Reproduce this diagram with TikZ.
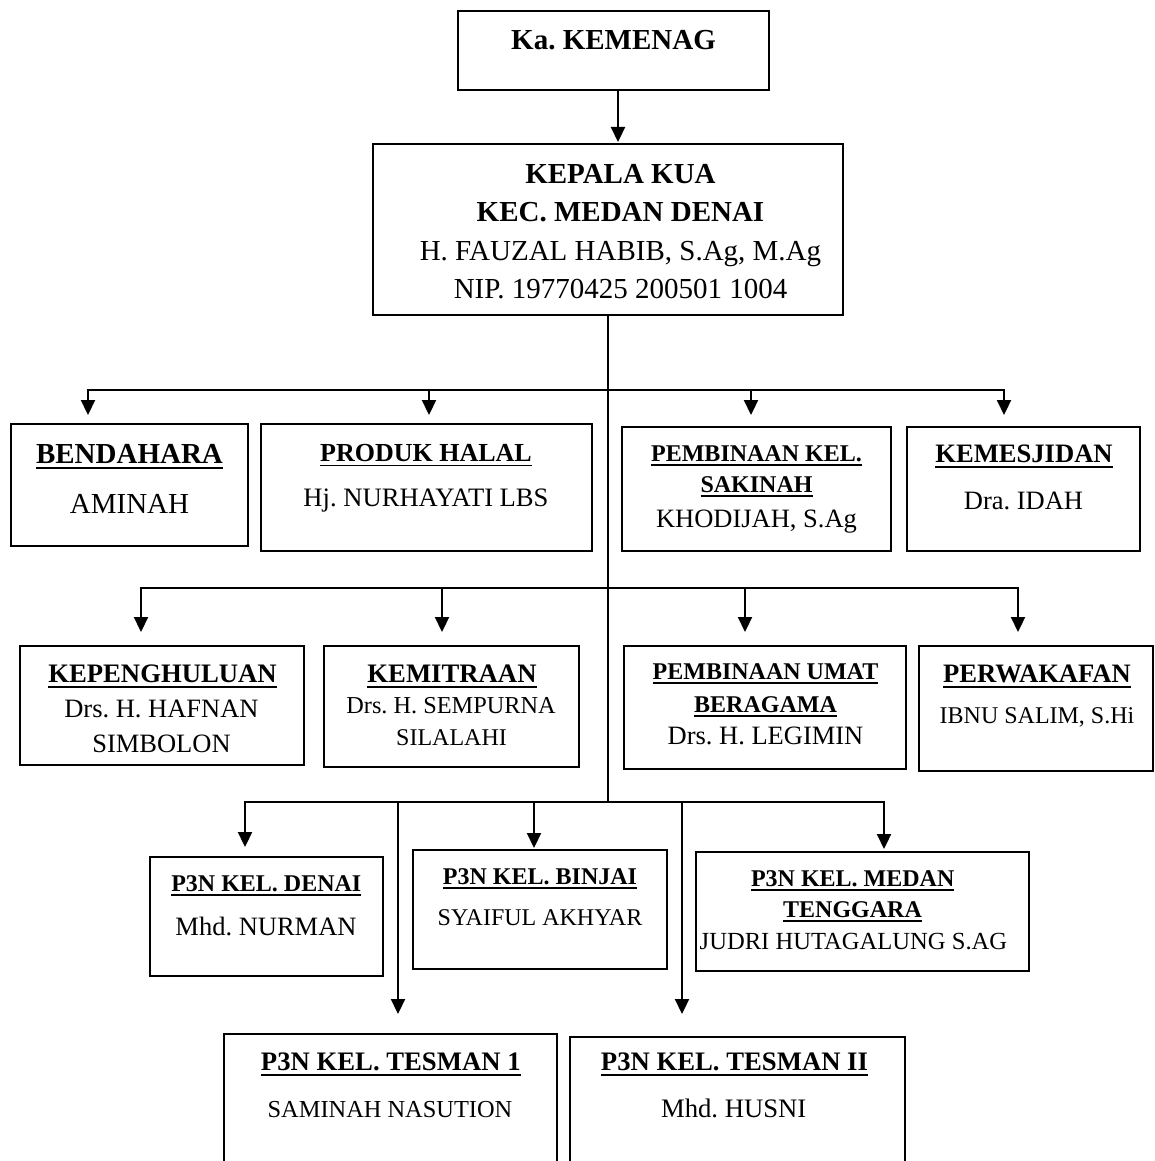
\documentclass[tikz,border=0pt]{standalone}
\usepackage{fontspec}
\setmainfont{Liberation Serif}
\usetikzlibrary{arrows.meta}
\newcommand{\orgul}[1]{\setbox0=\hbox{#1}\rlap{\rule[-0.21em]{\wd0}{0.07em}}\box0}
\newcommand{\orghd}[1]{{\bfseries\orgul{#1}}}
\newcommand{\mkbox}[5]{\node[orgbox, minimum width={#4-#2}, minimum height={#5-#3}] (#1) at ({(#2+#4)/2},{(#3+#5)/2}) {};}
\newcommand{\orgtxt}[5]{\node[txt] (#1) at (#2,#3) {\frenchspacing\fontsize{#4}{#4}\selectfont #5};}
\begin{document}
\begin{tikzpicture}[x=1pt, y=-1pt,
  orgbox/.style={draw, line width=2pt, inner sep=0pt, outer sep=0pt},
  txt/.style={anchor=base, inner sep=0pt, outer sep=0pt},
  ln/.style={line width=2.2pt},
  >={Triangle[length=15pt,width=14pt]}]
\useasboundingbox (0,0) rectangle (1154,1161);
\clip (0,0) rectangle (1154,1161);
\fill[white] (0,0) rectangle (1154,1161);
% boxes
\mkbox{ka}{458}{11}{769}{90}
\mkbox{kua}{373}{144}{843}{315}
\mkbox{bend}{11}{424}{248}{546}
\mkbox{prod}{261}{424}{592}{551}
\mkbox{pkel}{622}{427}{891}{551}
\mkbox{kemes}{907}{427}{1140}{551}
\mkbox{kepeng}{20}{646}{304}{765}
\mkbox{kemit}{324}{646}{579}{767}
\mkbox{pumat}{624}{646}{906}{769}
\mkbox{perwak}{919}{646}{1152.5}{771}
\mkbox{denai}{150}{857}{383}{976}
\mkbox{binjai}{413}{850}{667}{969}
\mkbox{medan}{696}{852}{1029}{971}
\mkbox{tesa}{224}{1034}{557}{1190}
\mkbox{tesb}{570}{1037}{905}{1190}
% connectors
\coordinate (kx) at (618,90);
\draw[ln,->,shorten >=2pt] (ka.south -| kx) -- (kua.north -| kx);
\coordinate (j3) at (608,802);
\draw[ln] (kua.south) -- (j3);
\coordinate (d11) at (88,390);
\coordinate (d12) at (429,390);
\coordinate (d13) at (751,390);
\coordinate (d14) at (1004,390);
\draw[ln,<->,shorten <=9pt,shorten >=12pt] (bend.north -| d11) -- (d11) -- (d14) -- (kemes.north -| d14);
\draw[ln,->,shorten >=9pt] (d12) -- (prod.north -| d12);
\draw[ln,->,shorten >=12pt] (d13) -- (pkel.north -| d13);
\coordinate (d21) at (141,588);
\coordinate (d22) at (442,588);
\coordinate (d23) at (745,588);
\coordinate (d24) at (1018,588);
\draw[ln,<->,shorten <=14pt,shorten >=14pt] (kepeng.north -| d21) -- (d21) -- (d24) -- (perwak.north -| d24);
\draw[ln,->,shorten >=14pt] (d22) -- (kemit.north -| d22);
\draw[ln,->,shorten >=14pt] (d23) -- (pumat.north -| d23);
\coordinate (d31) at (245,802);
\coordinate (d32) at (398,802);
\coordinate (d33) at (534,802);
\coordinate (d34) at (682,802);
\coordinate (d35) at (884,802);
\draw[ln,<->,shorten <=10pt,shorten >=3pt] (denai.north -| d31) -- (d31) -- (d35) -- (medan.north -| d35);
\draw[ln,->,shorten >=20pt] (d32) -- (tesa.north -| d32);
\draw[ln,->,shorten >=2pt] (d33) -- (binjai.north -| d33);
\draw[ln,->,shorten >=23pt] (d34) -- (tesb.north -| d34);
% texts
\orgtxt{t0}{613.5}{50}{29}{\bfseries Ka. KEMENAG}
\orgtxt{t1a}{620.5}{183}{29}{\bfseries KEPALA KUA}
\orgtxt{t1b}{620.5}{222}{29}{\bfseries KEC. MEDAN DENAI}
\orgtxt{t1c}{620.5}{260}{29}{H. FAUZAL HABIB, S.Ag, M.Ag}
\orgtxt{t1d}{620.5}{298}{29}{NIP. 19770425 200501 1004}
\orgtxt{t2a}{129.5}{463}{29}{\orghd{BENDAHARA}}
\orgtxt{t2b}{129.5}{513}{29}{AMINAH}
\orgtxt{t3a}{426}{461}{26}{\orghd{PRODUK HALAL}}
\orgtxt{t3b}{426}{506}{26.6}{Hj. NURHAYATI LBS}
\orgtxt{t4a}{756.5}{461}{24}{\orghd{PEMBINAAN KEL.}}
\orgtxt{t4b}{756.5}{492}{24}{\orghd{SAKINAH}}
\orgtxt{t4c}{756.5}{527}{26.5}{KHODIJAH, S.Ag}
\orgtxt{t5a}{1024}{462}{26.6}{\orghd{KEMESJIDAN}}
\orgtxt{t5b}{1023.5}{509}{26.5}{Dra. IDAH}
\orgtxt{t6a}{162.5}{682}{26.7}{\orghd{KEPENGHULUAN}}
\orgtxt{t6b}{161.5}{717}{26.5}{Drs. H. HAFNAN}
\orgtxt{t6c}{161.5}{752}{26.5}{SIMBOLON}
\orgtxt{t7a}{452}{682}{26.7}{\orghd{KEMITRAAN}}
\orgtxt{t7b}{451}{713}{24.3}{Drs. H. SEMPURNA}
\orgtxt{t7c}{451.5}{745}{24}{SILALAHI}
\orgtxt{t8a}{765.5}{679}{24}{\orghd{PEMBINAAN UMAT}}
\orgtxt{t8b}{765.5}{712}{24}{\orghd{BERAGAMA}}
\orgtxt{t8c}{765.5}{744}{26.5}{Drs. H. LEGIMIN}
\orgtxt{t9a}{1037}{682}{26.6}{\orghd{PERWAKAFAN}}
\orgtxt{t9b}{1037}{723}{24}{IBNU SALIM, S.Hi}
\orgtxt{t10a}{266.3}{891}{24}{\orghd{P3N KEL. DENAI}}
\orgtxt{t10b}{266}{935}{26.5}{Mhd. NURMAN}
\orgtxt{t11a}{540}{884}{24}{\orghd{P3N KEL. BINJAI}}
\orgtxt{t11b}{540}{925}{24}{SYAIFUL AKHYAR}
\orgtxt{t12a}{852.7}{886}{24}{\orghd{P3N KEL. MEDAN}}
\orgtxt{t12b}{852.5}{917}{24}{\orghd{TENGGARA}}
\orgtxt{t12c}{853.5}{949}{24.6}{JUDRI HUTAGALUNG S.AG}
\orgtxt{t13a}{390.8}{1070}{26.7}{\orghd{P3N KEL. TESMAN 1}}
\orgtxt{t13b}{390}{1117}{24.4}{SAMINAH NASUTION}
\orgtxt{t14a}{734.5}{1070}{26.7}{\orghd{P3N KEL. TESMAN II}}
\orgtxt{t14b}{733.7}{1117}{26.7}{Mhd. HUSNI}
\end{tikzpicture}
\end{document}
